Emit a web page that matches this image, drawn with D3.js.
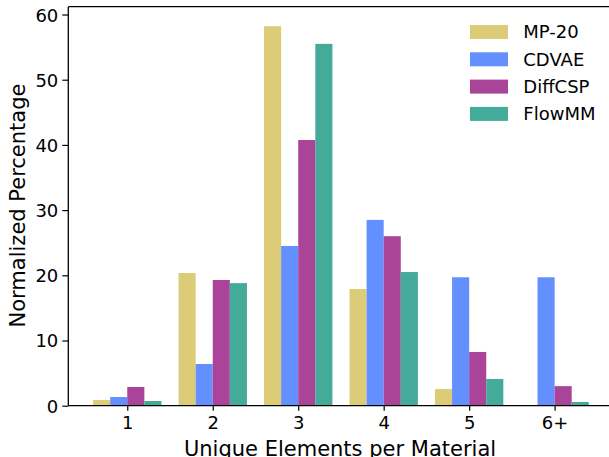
<!DOCTYPE html>
<html>
<head>
<meta charset="utf-8">
<script src="https://cdn.jsdelivr.net/npm/d3@7"></script>
<style>
  html, body { margin: 0; padding: 0; background: #fff; }
  svg { display: block; font-family: "DejaVu Sans", sans-serif; }
</style>
</head>
<body>
<svg id="chart" width="609" height="457"></svg>
<script>
// Share of materials by number of distinct elements, per dataset / model
const categories = ["1", "2", "3", "4", "5", "6+"];
const seriesNames = ["MP-20", "CDVAE", "DiffCSP", "FlowMM"];
const mp20    = [0.87, 20.35, 58.2, 17.9, 2.56, 0.0];
const cdvae   = [1.33, 6.4, 24.5, 28.5, 19.7, 19.7];
const diffcsp = [2.87, 19.28, 40.75, 26.0, 8.24, 3.0];
const flowmm  = [0.72, 18.8, 55.5, 20.5, 4.1, 0.57];
const colors  = ["#DDCC77", "#648FFF", "#AA4499", "#44AA99"];
const yTicks  = [0, 10, 20, 30, 40, 50, 60];

const seriesValues = [mp20, cdvae, diffcsp, flowmm];

const svg = d3.select("#chart");
const plot = { left: 68.3, right: 613.6, top: 6.7, bottom: 405.7 };

const barW = 0.2;
const nSeries = seriesNames.length;

const x = d3.scaleLinear()
  .domain([-0.69, categories.length - 1 + 0.69])
  .range([plot.left, plot.right]);

const y = d3.scaleLinear()
  .domain([0, 61.2])
  .range([plot.bottom, plot.top]);

// Bars
seriesValues.forEach((vals, s) => {
  const offset = (s - (nSeries - 1) / 2) * barW;
  svg.append("g")
    .selectAll("rect")
    .data(vals)
    .join("rect")
    .attr("x", (d, i) => x(i + offset - barW / 2))
    .attr("width", (d, i) => x(i + offset + barW / 2) - x(i + offset - barW / 2))
    .attr("y", d => y(d))
    .attr("height", d => y(0) - y(d))
    .attr("fill", colors[s]);
});

// Axes
const xAxis = d3.axisBottom(x)
  .tickValues(d3.range(categories.length))
  .tickFormat(i => categories[i])
  .tickSize(5)
  .tickPadding(6);

const yAxis = d3.axisLeft(y)
  .tickValues(yTicks)
  .tickSize(6)
  .tickPadding(4);

const gx = svg.append("g")
  .attr("transform", `translate(0,${plot.bottom})`)
  .call(xAxis);
gx.select(".domain").remove();

const gy = svg.append("g")
  .attr("transform", `translate(${plot.left},0)`)
  .call(yAxis);
gy.select(".domain").remove();

[gx, gy].forEach(g => {
  g.selectAll("text")
    .attr("font-family", "DejaVu Sans, sans-serif")
    .attr("font-size", 18)
    .attr("fill", "#000");
  g.selectAll(".tick line").attr("stroke", "#000").attr("stroke-width", 1.2);
});
gy.selectAll("text").attr("dy", "0.36em");

// Spines
const spine = svg.append("g").attr("stroke", "#000").attr("stroke-width", 1.3).attr("fill", "none");
spine.append("line").attr("x1", plot.left).attr("x2", plot.left).attr("y1", plot.top).attr("y2", plot.bottom);
spine.append("line").attr("x1", plot.left).attr("x2", plot.right).attr("y1", plot.bottom).attr("y2", plot.bottom);
spine.append("line").attr("x1", plot.left).attr("x2", plot.right).attr("y1", plot.top).attr("y2", plot.top);
spine.append("line").attr("x1", plot.right).attr("x2", plot.right).attr("y1", plot.top).attr("y2", plot.bottom);

// Axis titles
svg.append("text")
  .attr("x", 340)
  .attr("y", 455.5)
  .attr("text-anchor", "middle")
  .attr("font-size", 21)
  .attr("fill", "#000")
  .text("Unique Elements per Material");

svg.append("text")
  .attr("transform", "translate(25,205.5) rotate(-90)")
  .attr("text-anchor", "middle")
  .attr("font-size", 21)
  .attr("fill", "#000")
  .text("Normalized Percentage");

// Legend
const legend = svg.append("g").attr("transform", "translate(470,25)");
seriesNames.forEach((name, i) => {
  const row = legend.append("g").attr("transform", `translate(0,${i * 27.3})`);
  row.append("rect").attr("width", 38).attr("height", 14).attr("fill", colors[i]);
  row.append("text")
    .attr("x", 53.3)
    .attr("y", 7)
    .attr("dy", "0.36em")
    .attr("font-size", 18)
    .attr("fill", "#000")
    .text(name);
});
</script>
</body>
</html>
